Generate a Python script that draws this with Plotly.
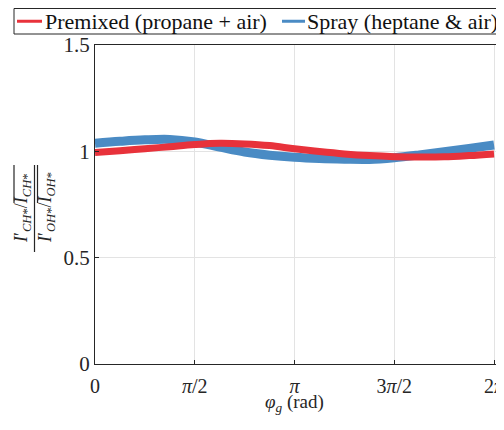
import math
import plotly.graph_objects as go

# phase positions (multiples of pi/8)
phase_steps = list(range(17))
phi = [k * math.pi / 8 for k in phase_steps]

premixed = [0.994, 1.003, 1.012, 1.022, 1.032, 1.038, 1.035, 1.027, 1.012,
            0.999, 0.988, 0.980, 0.975, 0.973, 0.974, 0.980, 0.988]
spray = [1.038, 1.047, 1.054, 1.056, 1.044, 1.020, 0.997, 0.982, 0.972,
         0.966, 0.963, 0.962, 0.970, 0.983, 0.998, 1.014, 1.030]

series_names = ["Premixed (propane + air)", "Spray (heptane &amp; air)"]
x_tickvals = [0, math.pi / 2, math.pi, 3 * math.pi / 2, 2 * math.pi]
x_ticktext = ["0", "<i>π</i>/2", "<i>π</i>", "3<i>π</i>/2", "2<i>π</i>"]
y_tickvals = [0, 0.5, 1, 1.5]
y_ticktext = ["0", "0.5", "1", "1.5"]

RED = "#E8323B"
BLUE = "#4A8BC4"
FONT = "Liberation Serif"
INK = "#262626"

# the page body has an 8 px margin, so the figure is drawn 8 px in from the corner
OFF = 8
W, H = 504 - OFF, 430 - OFF
# plot area in page pixels: left 95, top 45, bottom 364, right = page edge
ML, MT = 95 - OFF, 45 - OFF
MB = H - (364 - OFF)
MR = 0
PW, PH = W - ML - MR, H - MT - MB


def px(xp):
    """page x pixel -> paper coordinate"""
    return (xp - OFF - ML) / PW


def py(yp):
    """page y pixel -> paper coordinate"""
    return (H - MB - (yp - OFF)) / PH


fig = go.Figure()
fig.add_trace(go.Scatter(x=phi, y=spray, mode="lines", name=series_names[1],
                         line=dict(color=BLUE, width=9, shape="spline"), showlegend=False))
fig.add_trace(go.Scatter(x=phi, y=premixed, mode="lines", name=series_names[0],
                         line=dict(color=RED, width=7, shape="spline"), showlegend=False))

axis_common = dict(showline=True, linecolor=INK, linewidth=1.3, ticks="inside",
                   ticklen=4, tickcolor=INK, showgrid=True, gridcolor="#E3E3E3",
                   gridwidth=1, zeroline=False, automargin=False)

fig.update_xaxes(range=[0, 6.44], tickvals=x_tickvals, ticktext=x_ticktext, mirror=True,
                 ticklabeloverflow="allow", ticklabelstandoff=4,
                 tickfont=dict(family=FONT, size=20, color=INK), **axis_common)
fig.update_yaxes(range=[0, 1.5], tickvals=y_tickvals, ticktext=y_ticktext, mirror=False,
                 tickfont=dict(family=FONT, size=21, color=INK), **axis_common)

# x-axis title
fig.add_annotation(x=px(294), y=py(403), xref="paper", yref="paper",
                   text="<i>φ<sub>g</sub></i> (rad)", showarrow=False,
                   xanchor="center", yanchor="middle", font=dict(family=FONT, size=19, color=INK))

# y-axis label built as a rotated fraction
lab_font = dict(family=FONT, size=18, color=INK)
num = "<i>I</i>′<sub><i>CH</i>*</sub>/<i>I</i><sub><i>CH</i>*</sub>"
den = "<i>I</i>′<sub><i>OH</i>*</sub>/<i>I</i><sub><i>OH</i>*</sub>"
fig.add_annotation(x=px(22), y=py(208), xref="paper", yref="paper", text=num, showarrow=False,
                   textangle=-90, font=lab_font, xanchor="center", yanchor="middle")
fig.add_annotation(x=px(46), y=py(208), xref="paper", yref="paper", text=den, showarrow=False,
                   textangle=-90, font=lab_font, xanchor="center", yanchor="middle")
line_style = dict(color=INK, width=1.2)
fig.add_shape(type="line", xref="paper", yref="paper", x0=px(34.5), x1=px(34.5), y0=py(165), y1=py(252),
              line=line_style)
fig.add_shape(type="line", xref="paper", yref="paper", x0=px(14), x1=px(14), y0=py(165), y1=py(203),
              line=line_style)
fig.add_shape(type="line", xref="paper", yref="paper", x0=px(37.5), x1=px(37.5), y0=py(165), y1=py(203),
              line=line_style)

# legend box drawn by hand so it does not move the plot area
LEG_TOP, LEG_BOT = 8.5, 34
LEG_MID = (LEG_TOP + LEG_BOT) / 2
fig.add_shape(type="rect", xref="paper", yref="paper", x0=px(14), x1=px(502), y0=py(LEG_TOP), y1=py(LEG_BOT),
              line=dict(color=INK, width=1), fillcolor="white")
fig.add_shape(type="line", xref="paper", yref="paper", x0=px(17), x1=px(42), y0=py(LEG_MID), y1=py(LEG_MID),
              line=dict(color=RED, width=3))
fig.add_shape(type="line", xref="paper", yref="paper", x0=px(282), x1=px(305), y0=py(LEG_MID), y1=py(LEG_MID),
              line=dict(color=BLUE, width=3))
leg_font = dict(family=FONT, size=22, color="#111111")
fig.add_annotation(x=px(43), y=py(LEG_MID + 0.5), xref="paper", yref="paper", text=series_names[0],
                   showarrow=False, xanchor="left", yanchor="middle", font=leg_font)
fig.add_annotation(x=px(305), y=py(LEG_MID + 0.5), xref="paper", yref="paper", text=series_names[1],
                   showarrow=False, xanchor="left", yanchor="middle", font=leg_font)

fig.update_layout(
    width=W, height=H, margin=dict(l=ML, r=MR, t=MT, b=MB, autoexpand=False),
    paper_bgcolor="white", plot_bgcolor="white",
    showlegend=False,
)

fig.write_html("out.html")
